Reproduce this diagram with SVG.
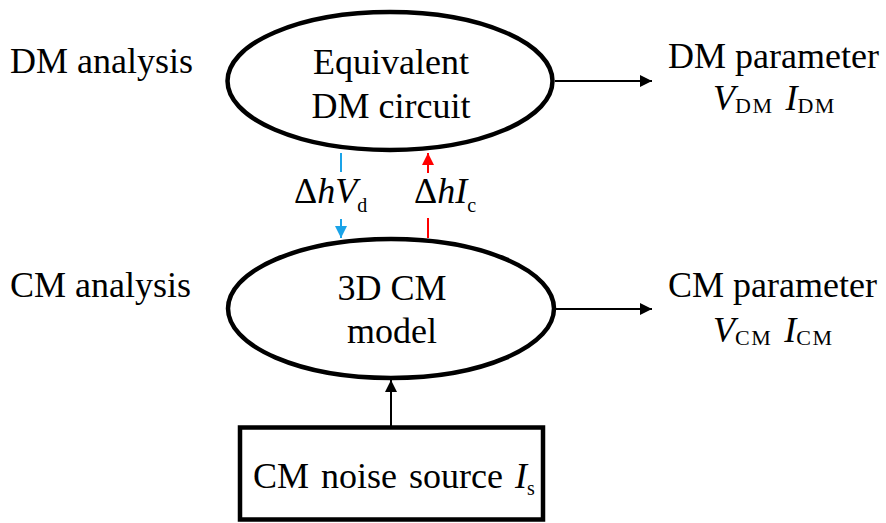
<svg xmlns="http://www.w3.org/2000/svg" width="886" height="523" viewBox="0 0 886 523" font-family="'Liberation Serif', 'DejaVu Serif', serif">
  <defs>
    <style>
      text { font-family: 'Liberation Serif', 'DejaVu Serif', serif; fill: #000; }
      .lbl { font-size: 36px; }
      .sub { font-size: 20px; }
      .psub { font-size: 22px; letter-spacing: 1.5px; }
      .it { font-style: italic; }
      .node { fill: #fff; stroke: #000; stroke-width: 4.5; }
      .wire { fill: none; stroke-width: 2; }
    </style>
    <marker id="headK" viewBox="0 0 12 12" refX="12" refY="6" markerWidth="12" markerHeight="12" markerUnits="userSpaceOnUse" orient="auto">
      <path d="M0,0 L12,6 L0,12 Z" fill="#000"/>
    </marker>
    <marker id="headB" viewBox="0 0 12 12" refX="12" refY="6" markerWidth="12" markerHeight="12" markerUnits="userSpaceOnUse" orient="auto">
      <path d="M0,0 L12,6 L0,12 Z" fill="#1aa3e8"/>
    </marker>
    <marker id="headR" viewBox="0 0 12 12" refX="12" refY="6" markerWidth="12" markerHeight="12" markerUnits="userSpaceOnUse" orient="auto">
      <path d="M0,0 L12,6 L0,12 Z" fill="#ff0000"/>
    </marker>
  </defs>
  <rect width="886" height="523" fill="#fff"/>

  <!-- side labels -->
  <g id="labels">
    <text class="lbl" x="10" y="73">DM analysis</text>
    <text class="lbl" x="10" y="297">CM analysis</text>
  </g>

  <!-- connectors -->
  <g id="connectors">
    <line class="wire" stroke="#000" x1="555" y1="81" x2="652" y2="81" marker-end="url(#headK)"/>
    <line class="wire" stroke="#000" x1="555" y1="309" x2="652" y2="309" marker-end="url(#headK)"/>
    <line class="wire" stroke="#000" x1="391" y1="426" x2="391" y2="380" marker-end="url(#headK)"/>
    <line class="wire" stroke="#1aa3e8" x1="341" y1="153" x2="341" y2="172"/>
    <line class="wire" stroke="#1aa3e8" x1="341" y1="219" x2="341" y2="238" marker-end="url(#headB)"/>
    <line class="wire" stroke="#ff0000" x1="428" y1="173" x2="428" y2="153" marker-end="url(#headR)"/>
    <line class="wire" stroke="#ff0000" x1="428" y1="218" x2="428" y2="238"/>
    <text class="lbl" x="294" y="203">Δ<tspan class="it">hV</tspan><tspan class="sub" dy="9">d</tspan></text>
    <text class="lbl" x="414" y="203">Δ<tspan class="it">hI</tspan><tspan class="sub" dy="9">c</tspan></text>
  </g>

  <g id="dm-circuit">
    <ellipse class="node" cx="390" cy="81" rx="162.5" ry="69"/>
    <text class="lbl" x="391" y="74" text-anchor="middle">Equivalent</text>
    <text class="lbl" x="391" y="118" text-anchor="middle">DM circuit</text>
  </g>

  <g id="cm-model">
    <ellipse class="node" cx="391" cy="308.5" rx="163" ry="69.5"/>
    <text class="lbl" x="392" y="300" text-anchor="middle">3D CM</text>
    <text class="lbl" x="392" y="343" text-anchor="middle">model</text>
  </g>

  <g id="noise-source">
    <rect class="node" x="240" y="427.5" width="303" height="92" stroke-width="5"/>
    <text class="lbl" x="253" y="488" word-spacing="3">CM noise source <tspan class="it">I</tspan><tspan class="sub" dy="7">s</tspan></text>
  </g>

  <g id="dm-parameter">
    <text class="lbl" x="668" y="68">DM parameter</text>
    <text class="lbl" x="713" y="110"><tspan class="it">V</tspan><tspan class="psub" dy="3">DM</tspan><tspan dy="-3" dx="12" class="it">I</tspan><tspan class="psub" dy="3">DM</tspan></text>
  </g>

  <g id="cm-parameter">
    <text class="lbl" x="668" y="297">CM parameter</text>
    <text class="lbl" x="713" y="342"><tspan class="it">V</tspan><tspan class="psub" dy="3">CM</tspan><tspan dy="-3" dx="12" class="it">I</tspan><tspan class="psub" dy="3">CM</tspan></text>
  </g>
</svg>
